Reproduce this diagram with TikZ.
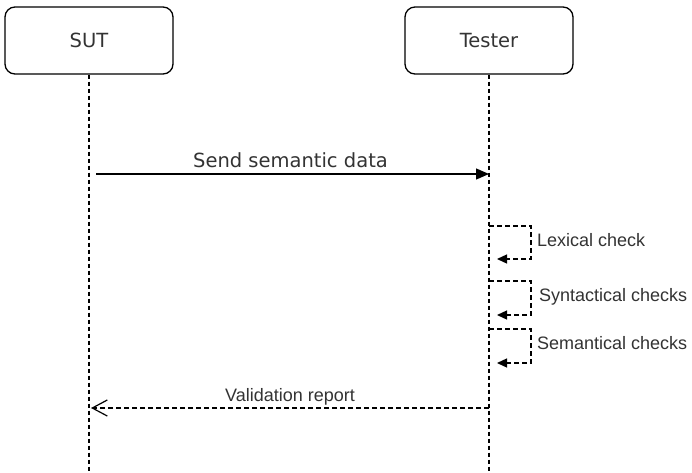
\documentclass[tikz,border=0pt]{standalone}
\usepackage{fontspec}
\setmainfont{DejaVu Sans}
\newfontfamily\arialfont{Liberation Sans}
\usetikzlibrary{arrows.meta}
\definecolor{txt}{HTML}{333333}
\begin{document}
\begin{tikzpicture}[x=1pt,y=-1pt,
  actor/.style={draw, line width=1.3pt, rounded corners=10pt, minimum width=168pt, minimum height=67pt, font=\fontsize{19.5}{22}\selectfont, text=txt},
  lifeline/.style={line width=1.3pt, dash pattern=on 4pt off 3pt},
  msg/.style={line width=1.3pt, -{Triangle[length=13pt,width=11pt]}},
  selfmsg/.style={line width=1.3pt, dash pattern=on 5pt off 3pt, -{Triangle[length=10pt,width=9pt]}},
  retmsg/.style={line width=1.3pt, dash pattern=on 5pt off 3pt, -{Straight Barb[length=15pt,width=16pt,line width=1.2pt]}},
  biglabel/.style={font=\fontsize{19.5}{22}\selectfont, text=txt, inner sep=0pt, anchor=base},
  smalllabel/.style={font=\arialfont\fontsize{18}{20}\selectfont, text=txt, inner sep=0pt, anchor=base west}
]
\useasboundingbox (0,0) rectangle (692,472);
\fill[white] (0,0) rectangle (692,472);

\node[actor] (sut) at (89,40.5) {SUT};
\node[actor] (tester) at (489,40.5) {Tester};

\coordinate (sutend) at (89,472);
\coordinate (testerend) at (489,472);
\draw[lifeline] (sut.south) -- (sutend);
\draw[lifeline] (tester.south) -- (testerend);

% send
\coordinate (s1) at (96,174);
\coordinate (s2) at (489,174);
\draw[msg] (s1) -- (s2);
\node[biglabel] (sendlbl) at (290.5,167) {Send semantic data};

% self loops
\coordinate (a1) at (489,226);
\coordinate (a2) at (531,226);
\coordinate (a3) at (531,259);
\coordinate (a4) at (497,259);
\draw[selfmsg] (a1) -- (a2) -- (a3) -- (a4);
\node[smalllabel] (lex) at (537,246.5) {Lexical check};

\coordinate (b1) at (489,281);
\coordinate (b2) at (531,281);
\coordinate (b3) at (531,315);
\coordinate (b4) at (497,315);
\draw[selfmsg] (b1) -- (b2) -- (b3) -- (b4);
\node[smalllabel] (syn) at (539,301.5) {Syntactical checks};

\coordinate (c1) at (489,329);
\coordinate (c2) at (531,329);
\coordinate (c3) at (531,363);
\coordinate (c4) at (497,363);
\draw[selfmsg] (c1) -- (c2) -- (c3) -- (c4);
\node[smalllabel] (sem) at (537,349) {Semantical checks};

% return
\coordinate (r1) at (489,408);
\coordinate (r2) at (91,408);
\draw[retmsg] (r1) -- (r2);
\node[biglabel, font=\arialfont\fontsize{18}{20}\selectfont] (vallbl) at (290,401) {Validation report};
\end{tikzpicture}
\end{document}
